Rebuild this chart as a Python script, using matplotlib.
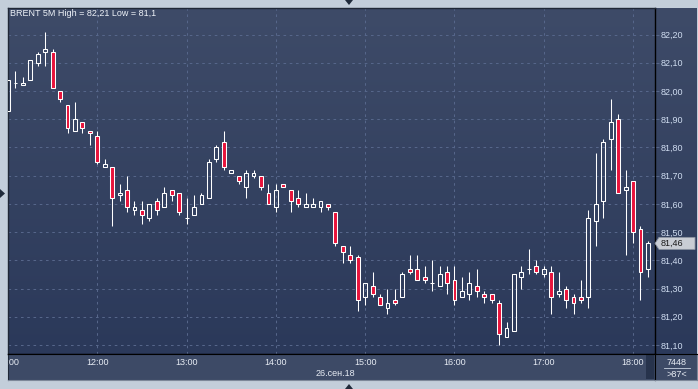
import numpy as np
import matplotlib.pyplot as plt
import matplotlib.transforms as mtransforms
from matplotlib.colors import LinearSegmentedColormap
from matplotlib.patches import Polygon, Rectangle
from matplotlib.ticker import FuncFormatter

# 5 minute candles, 11:00 .. 18:10
opens = [81.93, 82.03, 82.02, 82.04, 82.10, 82.14, 82.14, 82.00, 81.95, 81.86,
         81.89, 81.86, 81.84, 81.73, 81.73, 81.63, 81.65, 81.58, 81.58, 81.55,
         81.61, 81.59, 81.65, 81.64, 81.55, 81.56, 81.60, 81.62, 81.76, 81.82,
         81.71, 81.70, 81.66, 81.70, 81.70, 81.64, 81.59, 81.67, 81.65, 81.62,
         81.59, 81.59, 81.59, 81.60, 81.57, 81.45, 81.42, 81.41, 81.27, 81.31,
         81.27, 81.23, 81.26, 81.27, 81.37, 81.37, 81.34, 81.32, 81.31, 81.36,
         81.33, 81.27, 81.28, 81.31, 81.28, 81.28, 81.25, 81.13, 81.15, 81.34,
         81.37, 81.38, 81.35, 81.36, 81.28, 81.30, 81.27, 81.27, 81.27, 81.54,
         81.61, 81.83, 81.90, 81.65, 81.68, 81.51, 81.37]
highs = [82.04, 82.07, 82.05, 82.11, 82.14, 82.21, 82.15, 82.00, 81.95, 81.96,
         81.89, 81.86, 81.86, 81.76, 81.73, 81.67, 81.70, 81.61, 81.61, 81.60,
         81.62, 81.66, 81.65, 81.64, 81.62, 81.63, 81.64, 81.76, 81.81, 81.86,
         81.72, 81.70, 81.72, 81.72, 81.70, 81.67, 81.67, 81.67, 81.65, 81.65,
         81.64, 81.62, 81.61, 81.60, 81.57, 81.45, 81.45, 81.42, 81.32, 81.36,
         81.28, 81.30, 81.30, 81.36, 81.42, 81.42, 81.38, 81.40, 81.38, 81.38,
         81.38, 81.34, 81.36, 81.37, 81.29, 81.28, 81.26, 81.18, 81.35, 81.38,
         81.44, 81.40, 81.38, 81.38, 81.36, 81.31, 81.28, 81.33, 81.58, 81.78,
         81.83, 81.97, 81.92, 81.72, 81.68, 81.52, 81.47]
lows = [81.93, 82.01, 82.02, 82.04, 82.09, 82.09, 82.01, 81.96, 81.85, 81.86,
        81.85, 81.81, 81.74, 81.73, 81.52, 81.61, 81.57, 81.56, 81.53, 81.54,
        81.56, 81.59, 81.61, 81.56, 81.53, 81.56, 81.60, 81.62, 81.75, 81.72,
        81.71, 81.67, 81.62, 81.69, 81.65, 81.60, 81.57, 81.66, 81.57, 81.59,
        81.59, 81.59, 81.57, 81.58, 81.45, 81.39, 81.39, 81.22, 81.24, 81.27,
        81.24, 81.21, 81.24, 81.27, 81.35, 81.33, 81.32, 81.29, 81.31, 81.28,
        81.24, 81.27, 81.26, 81.27, 81.25, 81.25, 81.10, 81.13, 81.15, 81.30,
        81.35, 81.35, 81.34, 81.21, 81.27, 81.23, 81.21, 81.25, 81.23, 81.45,
        81.55, 81.72, 81.64, 81.42, 81.46, 81.26, 81.34]
closes = [82.04, 82.03, 82.03, 82.11, 82.13, 82.15, 82.01, 81.97, 81.87, 81.90,
          81.87, 81.85, 81.75, 81.74, 81.62, 81.64, 81.59, 81.59, 81.56, 81.60,
          81.58, 81.64, 81.63, 81.57, 81.55, 81.59, 81.63, 81.75, 81.80, 81.73,
          81.72, 81.68, 81.71, 81.71, 81.66, 81.60, 81.65, 81.66, 81.61, 81.60,
          81.60, 81.60, 81.61, 81.59, 81.46, 81.43, 81.40, 81.26, 81.32, 81.28,
          81.24, 81.25, 81.25, 81.35, 81.36, 81.33, 81.33, 81.32, 81.35, 81.32,
          81.26, 81.29, 81.32, 81.29, 81.27, 81.26, 81.14, 81.16, 81.35, 81.36,
          81.37, 81.36, 81.37, 81.27, 81.29, 81.26, 81.25, 81.26, 81.55, 81.60,
          81.82, 81.89, 81.64, 81.66, 81.50, 81.36, 81.46]

hour_labels = ["11:00", "12:00", "13:00", "14:00", "15:00", "16:00", "17:00", "18:00"]
bars_per_hour = 12
price_ticks = [81.1, 81.2, 81.3, 81.4, 81.5, 81.6, 81.7, 81.8, 81.9, 82.0, 82.1, 82.2]
date_label = "26.сен.18"
symbol = "BRENT 5M"
volume = "7448"

plt.rcParams["font.family"] = ["Liberation Sans", "DejaVu Sans"]
plt.rcParams["font.size"] = 6.5

W, H = 698, 389
fig = plt.figure(figsize=(W / 100, H / 100), dpi=100, facecolor="#c3ceda")


def px(x0, y0, x1, y1):
    # pixel box (y from top) -> figure fraction rect
    return [x0 / W, 1 - y1 / H, (x1 - x0) / W, (y1 - y0) / H]


def comma(v, fmt="{:.2f}"):
    return fmt.format(v).replace(".", ",")


# gradient behind chart + price scale
bg = fig.add_axes(px(8, 7.5, 697, 354))
bg.imshow(np.linspace(0, 1, 200)[:, None], aspect="auto",
          cmap=LinearSegmentedColormap.from_list("bg", ["#3e4b68", "#2b395a"]))
bg.set_axis_off()

ax = fig.add_axes(px(8, 7.5, 655, 354))
ax.patch.set_visible(False)

x = np.arange(len(opens))
o, hi, lo, c = map(np.array, (opens, highs, lows, closes))
top = np.maximum(o, c)
bot = np.minimum(o, c)
ax.vlines(x, top, hi, color="white", lw=0.75, zorder=3)
ax.vlines(x, lo, bot, color="white", lw=0.75, zorder=3)
face = ["none" if cc >= oo else "#e8143c" for oo, cc in zip(opens, closes)]
ax.bar(x, top - bot, bottom=bot, width=0.52, color=face,
       edgecolor="white", linewidth=0.75, zorder=4)

ax.set_xlim(0, len(opens) - 0.05)
ylim = (81.068, 82.296)
ax.set_ylim(*ylim)
ax.set_xticks(np.arange(1, len(hour_labels)) * bars_per_hour)
ax.set_yticks(price_ticks)
ax.grid(True, color="#56668a", lw=0.75, ls=(0, (2.5, 3.5)))
ax.tick_params(axis="x", length=0, labelbottom=False)
ax.yaxis.tick_right()
ax.yaxis.set_major_formatter(FuncFormatter(lambda v, p: comma(v)))
ax.tick_params(axis="y", length=3, width=0.75, color="#56668a", pad=1,
               labelcolor="#cfdcf0")
for side in ("bottom", "right"):
    ax.spines[side].set_color("black")
    ax.spines[side].set_linewidth(1)
for side in ("left", "top"):
    ax.spines[side].set_color("#1f2736")
    ax.spines[side].set_linewidth(1)

ax.text(0.003, 0.995, f"{symbol} High = {comma(max(highs), '{:g}')} Low = {comma(min(lows), '{:g}')}",
        transform=ax.transAxes, ha="left", va="top", color="#eef2f8")

# last price tag on the scale
last = closes[-1]
ax_w, ax_h = 647, 346.5
dy = 6 * (ylim[1] - ylim[0]) / ax_h
trans = mtransforms.blended_transform_factory(ax.transAxes, ax.transData)
tag = Polygon([(1.0, last), (1 + 4 / ax_w, last + dy), (1 + 40 / ax_w, last + dy),
               (1 + 40 / ax_w, last - dy), (1 + 4 / ax_w, last - dy)],
              closed=True, transform=trans, clip_on=False,
              fc="#c9cdd4", ec="#8c94a2", lw=0.6, zorder=5)
ax.add_patch(tag)
ax.text(1 + 6 / ax_w, last, comma(last), transform=trans, ha="left", va="center",
        color="#1a1a1a", zorder=6, clip_on=False)

# time scale
axb = fig.add_axes(px(8, 354, 655, 380))
axb.set_xlim(ax.get_xlim())
axb.set_ylim(0, 1)
axb.set_facecolor("#3d4a66")
axb.set_xticks([])
axb.set_yticks([])
for k, lab in enumerate(hour_labels):
    axb.text(k * bars_per_hour, 0.66, lab, ha="center", va="center",
             color="#e6ebf3", clip_on=True)
axb.text(0.506, 0.24, date_label, transform=axb.transAxes, ha="center",
         va="center", color="#e6ebf3")
axb.add_patch(Rectangle((0.986, 0.05), 0.013, 0.9, transform=axb.transAxes,
                        fc="#27334c", ec="none"))
axb.spines["top"].set_color("black")
axb.spines["right"].set_color("black")
axb.spines["left"].set_color("#1f2736")
axb.spines["bottom"].set_color("#7d8899")

# corner cell
axc = fig.add_axes(px(655, 354, 697, 380))
axc.set_facecolor("#3d4a66")
axc.set_xticks([])
axc.set_yticks([])
axc.text(0.52, 0.66, volume, ha="center", va="center", color="#e6ebf3",
         transform=axc.transAxes)
axc.axhline(0.45, 0.22, 0.84, color="#c8d2e0", lw=0.6)
axc.text(0.52, 0.22, f">{len(opens)}<", ha="center", va="center",
         color="#e6ebf3", transform=axc.transAxes)
axc.set_ylim(0, 1)
for side in axc.spines:
    axc.spines[side].set_color("black" if side in ("top", "left") else "#7d8899")

# little window arrows
for verts in ([(345, 0), (353, 0), (349, 5)],
              [(345, 389), (353, 389), (349, 384)],
              [(0, 189), (0, 198), (5, 193.5)]):
    fig.add_artist(Polygon([(vx / W, 1 - vy / H) for vx, vy in verts], closed=True,
                           transform=fig.transFigure, fc="#1f2a3a", ec="none"))

fig.savefig("out.png", dpi=100, facecolor=fig.get_facecolor())
